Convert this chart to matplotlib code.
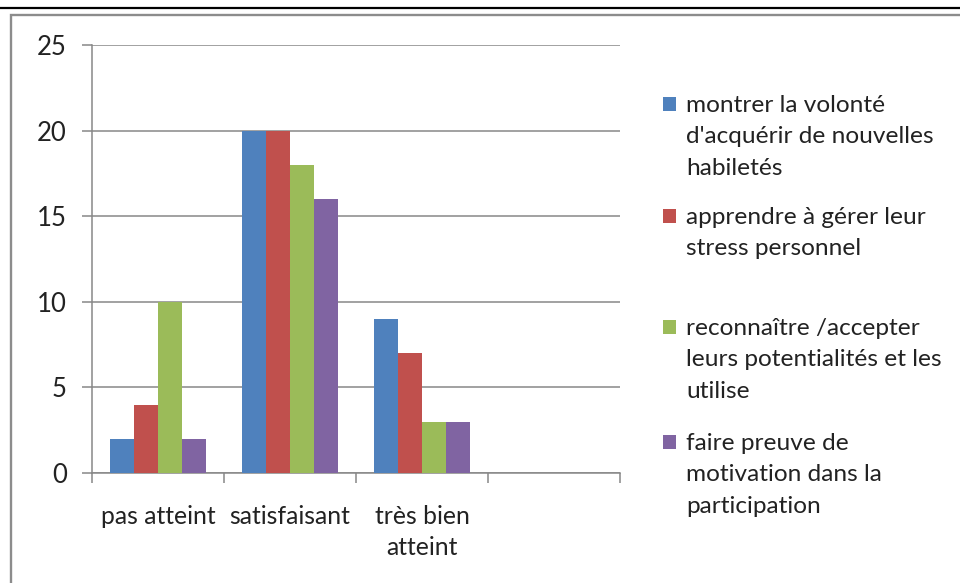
import matplotlib
matplotlib.use("Agg")
import matplotlib.pyplot as plt
import numpy as np
from matplotlib.patches import Rectangle
from matplotlib.lines import Line2D
from matplotlib.transforms import blended_transform_factory

plt.rcParams['font.family'] = ['Lato', 'DejaVu Sans']

# data
categories = ["pas atteint", "satisfaisant", "très bien\natteint"]
n_slots = 4  # Excel left a fourth, empty category
series_names = [
    "montrer la volonté\nd'acquérir de nouvelles\nhabiletés",
    "apprendre à gérer leur\nstress personnel",
    "reconnaître /accepter\nleurs potentialités et les\nutilise",
    "faire preuve de\nmotivation dans la\nparticipation",
]
volonte = [2, 20, 9]
stress = [4, 20, 7]
potentialites = [10, 18, 3]
motivation = [2, 16, 3]
series_values = [volonte, stress, potentialites, motivation]
colors = ["#4F81BD", "#C0504D", "#9BBB59", "#8064A2"]
y_ticks = [0, 5, 10, 15, 20, 25]

W, H = 960, 583
def fx(px):
    return px / W
def fy(py):
    return 1 - py / H

fig = plt.figure(figsize=(W / 100, H / 100), dpi=100)

# outer decorations: black rule and grey chart frame
fig.add_artist(Line2D([0, 1], [fy(8.3), fy(8.3)], transform=fig.transFigure,
                      color="black", lw=1.6))
fig.add_artist(Rectangle((fx(10.5), fy(600)), fx(1000), fy(15) - fy(600),
                         transform=fig.transFigure, fill=False,
                         edgecolor="#8c8c8c", lw=1.7))

ax = fig.add_axes([fx(92), fy(473), fx(620) - fx(92), fy(45) - fy(473)])

grid_col = "#878787"
bar_w = 24 / 132
x = np.arange(len(categories)) + 0.5
for j, (vals, col) in enumerate(zip(series_values, colors)):
    ax.bar(x + (j - 1.5) * bar_w, vals, width=bar_w, color=col,
           linewidth=0, zorder=3)

ax.set_xlim(0, n_slots)
ax.set_ylim(0, 25)
ax.set_yticks(y_ticks)
ax.yaxis.grid(True, color=grid_col, lw=1.1, zorder=0)
ax.set_xticks(range(n_slots + 1))
ax.set_xticklabels([])
ax.tick_params(axis="both", direction="out", length=7.2, width=1.1,
               color=grid_col)
ax.tick_params(axis="y", pad=11, labelsize=18.5, labelcolor="#222222")
for s in ["top", "right"]:
    ax.spines[s].set_visible(False)
for s in ["left", "bottom"]:
    ax.spines[s].set_color(grid_col)
    ax.spines[s].set_linewidth(1.1)

# category labels, one text per line
trans = blended_transform_factory(ax.transData, fig.transFigure)
for xc, lab in zip(x, categories):
    for k, line in enumerate(lab.split("\n")):
        ax.text(xc, fy(524 + 31 * k), line, transform=trans, ha="center",
                va="baseline", fontsize=17.8, color="#222222")

# legend drawn by hand to follow Excel's layout
first_baselines = [112, 224, 335, 450]
for name, col, b in zip(series_names, colors, first_baselines):
    fig.add_artist(Rectangle((fx(663), fy(b - 1.5)), fx(13), fy(b - 14.5) - fy(b - 1.5),
                             transform=fig.transFigure, color=col, lw=0))
    for k, line in enumerate(name.split("\n")):
        fig.text(fx(686), fy(b + 31.3 * k), line, ha="left", va="baseline",
                 fontsize=17.6, color="#222222")

fig.savefig("out.png", dpi=100)
